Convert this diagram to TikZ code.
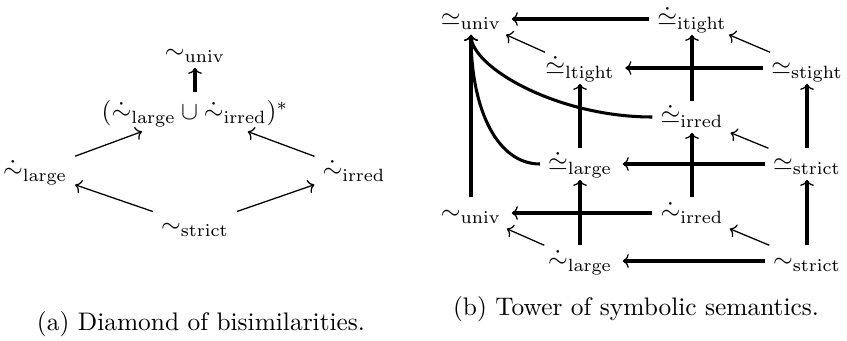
\documentclass[tikz,border=0pt]{standalone}
\usetikzlibrary{arrows.meta}
\newcommand{\mydsim}{\dot{\sim}}
\newcommand{\mydsimeq}{\dot{\simeq}}
\begin{document}
\begin{tikzpicture}[x=0.3937pt,y=-0.3937pt,
  obj/.style={inner xsep=3pt, inner ysep=1pt, text height=7.5pt, text depth=2.5pt},
  cmto/.tip={Computer Modern Rightarrow[length=2.4pt,width=5.4pt,line width=0.5pt]},
  thinarr/.style={line width=0.5pt, -cmto},
  thickarr/.style={line width=1.2pt, -cmto},
  hthick/.style={thickarr, shorten >=1pt},
  capt/.style={anchor=base, inner sep=0pt}]
\useasboundingbox (0,0) rectangle (847,340);

% (a) diamond
\node[obj] (A1) at (195,52) {$\sim_{\mathrm{univ}}$};
\node[obj, text height=9.5pt, text depth=3.5pt] (AU) at (195,112) {$(\mydsim_{\mathrm{large}} \cup \mydsim_{\mathrm{irred}})^*$};
\node[obj] (AL) at (35,171) {$\mydsim_{\mathrm{large}}$};
\node[obj] (AI) at (354,171) {$\mydsim_{\mathrm{irred}}$};
\node[obj] (AS) at (195,226) {$\sim_{\mathrm{strict}}$};
\draw[thickarr] (AU) -- (A1);
\draw[thinarr] (AL) -- (AU);
\draw[thinarr] (AI) -- (AU);
\draw[thinarr] (AS) -- (AL);
\draw[thinarr] (AS) -- (AI);

% (b) tower
\node[obj] (U1) at (471,19) {$\simeq_{\mathrm{univ}}$};
\node[obj] (IT) at (692,19) {$\mydsimeq_{\mathrm{itight}}$};
\node[obj] (LT) at (580,68) {$\mydsimeq_{\mathrm{ltight}}$};
\node[obj] (ST) at (807,68) {$\simeq_{\mathrm{stight}}$};
\node[obj] (IR) at (692,117) {$\mydsimeq_{\mathrm{irred}}$};
\node[obj] (LA) at (580,164) {$\mydsimeq_{\mathrm{large}}$};
\node[obj] (SR) at (807,164) {$\simeq_{\mathrm{strict}}$};
\node[obj] (U2) at (471,213) {$\sim_{\mathrm{univ}}$};
\node[obj] (I2) at (692,213) {$\mydsim_{\mathrm{irred}}$};
\node[obj] (L2) at (580,261) {$\mydsim_{\mathrm{large}}$};
\node[obj] (S2) at (807,261) {$\sim_{\mathrm{strict}}$};

% horizontal
\draw[hthick] (IT) -- (U1);
\draw[hthick] (ST) -- (LT);
\draw[hthick] (SR) -- (LA);
\draw[hthick] (I2) -- (U2);
\draw[hthick] (S2) -- (L2);
% vertical
\draw[thickarr] (U2) -- (U1);
\draw[thickarr] (LA) -- (LT);
\draw[thickarr] (L2) -- (LA);
\draw[thickarr] (IR) -- (IT);
\draw[thickarr] (I2) -- (IR);
\draw[thickarr] (SR) -- (ST);
\draw[thickarr] (S2) -- (SR);
% curves
\draw[thickarr] (IR.west) .. controls +(-96,0) and +(0,32) .. (U1.south);
\draw[thickarr] (LA.west) .. controls +(-42,0) and +(0,76) .. (U1.south);
% diagonals
\draw[thinarr] (LT) -- (U1);
\draw[thinarr] (ST) -- (IT);
\draw[thinarr] (SR) -- (IR);
\draw[thinarr] (L2) -- (U2);
\draw[thinarr] (S2) -- (I2);

% captions
\node[capt] (capa) at (201,330) {(a) Diamond of bisimilarities.};
\node[capt] (capb) at (636,315) {(b) Tower of symbolic semantics.};
\end{tikzpicture}
\end{document}
